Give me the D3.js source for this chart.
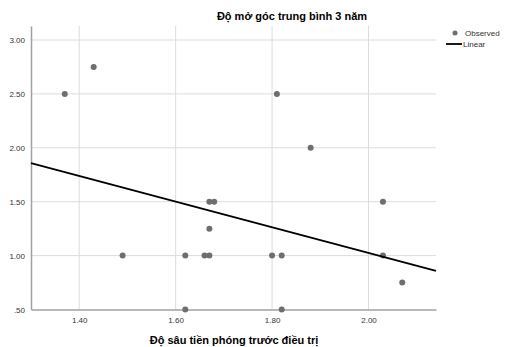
<!DOCTYPE html>
<html>
<head>
<meta charset="utf-8">
<script src="https://cdn.jsdelivr.net/npm/d3@7"></script>
<style>
body { margin: 0; background: #fff; }
svg { display: block; font-family: "Liberation Sans", Arial, sans-serif; }
.grid line { stroke: #dcdcdc; stroke-width: 1; }
.tick text { fill: #333; font-size: 8px; }
</style>
</head>
<body>
<svg id="chart" width="506" height="347"></svg>
<script>
// observed points (x = do sau tien phong, y = do mo goc)
var obsX = [1.37, 1.43, 1.49, 1.62, 1.62, 1.66, 1.67, 1.67, 1.68, 1.67, 1.80, 1.82, 1.81, 1.82, 1.88, 2.03, 2.03, 2.07];
var obsY = [2.50, 2.75, 1.00, 1.00, 0.50, 1.00, 1.00, 1.50, 1.50, 1.25, 1.00, 1.00, 2.50, 0.50, 2.00, 1.50, 1.00, 0.75];
var xTicks = [1.40, 1.60, 1.80, 2.00];
var yTicks = [0.50, 1.00, 1.50, 2.00, 2.50, 3.00];
var yTickLabels = ['.50', '1.00', '1.50', '2.00', '2.50', '3.00'];
// linear fit
var fitIntercept = 3.406;
var fitSlope = -1.19;

var margin = {left: 31, top: 26, right: 70, bottom: 37.5};
var svg = d3.select('#chart');
var width = 506 - margin.left - margin.right;
var height = 347 - margin.top - margin.bottom;

var x = d3.scaleLinear().domain([1.30, 2.14]).range([0, width]);
var y = d3.scaleLinear().domain([0.50, 3.13]).range([height, 0]);

var g = svg.append('g').attr('transform', 'translate(' + margin.left + ',' + margin.top + ')');

// gridlines
var grid = g.append('g').attr('class', 'grid');
grid.selectAll('line.h').data(yTicks.filter(function(d){ return d > 0.5; })).enter().append('line')
    .attr('class', 'h')
    .attr('x1', 0).attr('x2', width)
    .attr('y1', function(d){ return y(d); }).attr('y2', function(d){ return y(d); });
grid.selectAll('line.v').data(xTicks).enter().append('line')
    .attr('class', 'v')
    .attr('y1', 0).attr('y2', height)
    .attr('x1', function(d){ return x(d); }).attr('x2', function(d){ return x(d); });

// axes
var yAxis = d3.axisLeft(y).tickValues(yTicks).tickSize(0).tickPadding(6)
    .tickFormat(function(d, i){ return yTickLabels[i]; });
var gy = g.append('g').call(yAxis);
gy.select('.domain').attr('stroke', '#a0a0a0').attr('stroke-width', 1.5);

var xAxis = d3.axisBottom(x).tickValues(xTicks).tickSize(0).tickPadding(8)
    .tickFormat(d3.format('.2f'));
var gx = g.append('g').attr('transform', 'translate(0,' + height + ')').call(xAxis);
gx.select('.domain').attr('stroke', '#a0a0a0').attr('stroke-width', 1.5);

// points
g.selectAll('circle.obs').data(obsX).enter().append('circle')
    .attr('class', 'obs')
    .attr('cx', function(d){ return x(d); })
    .attr('cy', function(d, i){ return y(obsY[i]); })
    .attr('r', 3)
    .attr('fill', '#6e6e6e');

// fit line
var xDom = x.domain();
g.append('path')
    .attr('d', d3.line()
        .x(function(d){ return x(d); })
        .y(function(d){ return y(fitIntercept + fitSlope * d); })(xDom))
    .attr('stroke', '#000')
    .attr('stroke-width', 1.8)
    .attr('fill', 'none');

// title
svg.append('text')
    .attr('x', 292).attr('y', 20)
    .attr('text-anchor', 'middle')
    .attr('font-size', '11px').attr('font-weight', 'bold')
    .text('Độ mở góc trung bình 3 năm');

svg.append('text')
    .attr('x', 234).attr('y', 344)
    .attr('text-anchor', 'middle')
    .attr('font-size', '11px').attr('font-weight', 'bold')
    .text('Độ sâu tiền phóng trước điều trị');

// legend
var leg = svg.append('g').attr('transform', 'translate(446,33)');
leg.append('circle').attr('cx', 9).attr('cy', 0).attr('r', 2.5).attr('fill', '#6e6e6e');
leg.append('text').attr('x', 19).attr('y', 3).attr('font-size', '8px').attr('fill', '#333').text('Observed');
leg.append('line').attr('x1', 0).attr('x2', 16).attr('y1', 11).attr('y2', 11)
    .attr('stroke', '#000').attr('stroke-width', 1.8);
leg.append('text').attr('x', 17).attr('y', 14).attr('font-size', '8px').attr('fill', '#333').text('Linear');
</script>
</body>
</html>
